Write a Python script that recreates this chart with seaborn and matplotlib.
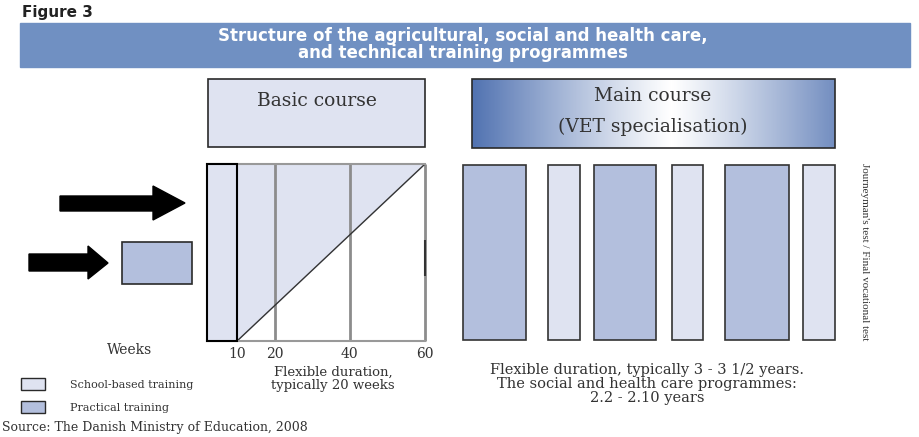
"""
Figure 3: structure of the agricultural, social and health care,
and technical training programmes (diagram redrawn with seaborn/matplotlib).
"""
import matplotlib
matplotlib.use("Agg")
import matplotlib.pyplot as plt
import numpy as np
import seaborn as sns
from matplotlib.colors import LinearSegmentedColormap
from matplotlib.patches import Polygon, Rectangle

# --- text ---
figure_label = "Figure 3"
title_lines = [
    "Structure of the agricultural, social and health care,",
    "and technical training programmes",
]
basic_label = "Basic course"
main_label = ["Main course", "(VET specialisation)"]
test_label = "Journeyman's test / Final vocational test"
weeks_label = "Weeks"
basic_note = ["Flexible duration,", "typically 20 weeks"]
main_note = [
    "Flexible duration, typically 3 - 3 1/2 years.",
    "The social and health care programmes:",
    "2.2 - 2.10 years",
]
legend_labels = ["School-based training", "Practical training"]
source = "Source: The Danish Ministry of Education, 2008"

# --- basic course (weeks) ---
week_ticks = [10, 20, 40, 60]
intro_block = [2, 10]      # school-based opening block (weeks)
basic_end = 60

# --- main course: alternating blocks (relative lengths) ---
main_types = ["practical", "school", "practical", "school", "practical", "school"]
main_lengths = [63, 32, 62, 31, 64, 32]
main_gaps = [0, 22, 14, 16, 22, 14]

LIGHT = "#dfe3f1"
DARK = "#b3bfdd"
BANNER = "#7090c2"
TEXT = "#333333"
EDGE = "#2a2a2a"
SERIF = ["DejaVu Serif"]

sns.set_theme(style="white")
plt.rcParams["font.family"] = SERIF

W, H = 919, 437
fig = plt.figure(figsize=(W / 100, H / 100), dpi=100)
fig.patch.set_facecolor("white")

# background axes in pixel units for the layout pieces
bg = fig.add_axes([0, 0, 1, 1])
bg.axis("off")

bg.text(22, 13, figure_label, fontsize=11, fontweight="bold",
        family="DejaVu Sans", color="#222222", va="center")

# title banner
bg.add_patch(Rectangle((20, 23), 890, 44, color=BANNER, zorder=1))
for y, line in zip([41, 58], title_lines):
    bg.text(463, y, line, fontsize=12, fontweight="bold", family="DejaVu Sans",
            color="white", ha="center", va="baseline", zorder=2)

# header boxes
bg.add_patch(Rectangle((208, 79), 217, 68, fc=LIGHT, ec=EDGE, lw=1.2))
bg.text(317, 101, basic_label, fontsize=13.5, color=TEXT, ha="center", va="center")

cmap = LinearSegmentedColormap.from_list("hdr", ["white", "#5374b2"])
xs = np.linspace(-1, 1, 300)
grad = np.abs(xs - 0.1)[None, :] ** 1.1
bg.imshow(grad, extent=(472, 835, 148, 79), cmap=cmap, aspect="auto",
          vmin=0, vmax=1.1, zorder=1)
bg.add_patch(Rectangle((472, 79), 363, 69, fill=False, ec=EDGE, lw=1.2, zorder=2))
bg.text(653, 96, main_label[0], fontsize=13.5, color=TEXT, ha="center", va="center", zorder=3)
bg.text(653, 127, main_label[1], fontsize=13.5, color=TEXT, ha="center", va="center", zorder=3)

# entry arrows and practical-training block
bg.add_patch(Polygon([(60, 196), (153, 196), (153, 186), (185, 203),
                      (153, 220), (153, 211), (60, 211)], color="black"))
bg.add_patch(Polygon([(29, 254), (88, 254), (88, 246), (108, 263),
                      (88, 279), (88, 271), (29, 271)], color="black"))
bg.add_patch(Rectangle((122, 242), 70, 42, fc=DARK, ec=EDGE, lw=1.2))

# vertical exam label
bg.text(865, 252, test_label, rotation=-90, fontsize=8, color=TEXT,
        family="Liberation Serif", ha="center", va="center")

bg.text(130, 350, weeks_label, fontsize=10, color=TEXT, ha="center", va="center")
for y, line in zip([372, 385], basic_note):
    bg.text(333, y, line, fontsize=9.5, color=TEXT, ha="center", va="center")
for y, line in zip([370, 384, 398], main_note):
    bg.text(647, y, line, fontsize=10.5, color=TEXT, ha="center", va="center")

# legend
for y, fc, label in zip([378, 401], [LIGHT, DARK], legend_labels):
    bg.add_patch(Rectangle((21, y), 24, 12, fc=fc, ec=EDGE, lw=1))
    bg.text(70, y + 7, label, fontsize=8, color=TEXT, va="center")

bg.text(2, 427, source, fontsize=9, color=TEXT, va="center")

bg.set_xlim(0, W)
bg.set_ylim(H, 0)

# basic course block, in weeks
ab = fig.add_axes([207 / W, (H - 341) / H, 218 / W, 177 / H])
ab.set_xlim(intro_block[0], basic_end)
ab.set_ylim(0, 1)
ab.fill_between([intro_block[1], basic_end], [0, 1], [1, 1], color=LIGHT, lw=0)
ab.vlines(week_ticks[1:], 0, 1, color="#8c8c8c", lw=2, clip_on=False)
ab.plot([intro_block[1], basic_end], [0, 1], color="#333333", lw=1)
ab.bar(intro_block[0], 1, width=intro_block[1] - intro_block[0], align="edge",
       color=LIGHT, edgecolor="black", lw=1.5, clip_on=False, zorder=3)
ab.vlines(basic_end, 0.37, 0.57, color="#333333", lw=1.5, clip_on=False)
for side in ["top", "bottom"]:
    ab.spines[side].set_color("#999999")
    ab.spines[side].set_linewidth(1.5)
ab.spines["left"].set_visible(False)
ab.spines["right"].set_visible(False)
ab.set_xticks(week_ticks)
ab.set_xticklabels([str(t) for t in week_ticks], fontsize=10, color=TEXT)
ab.tick_params(axis="x", length=0, pad=4)
ab.set_yticks([])
ab.set_facecolor("white")

# main course blocks
am = fig.add_axes([463 / W, (H - 340) / H, 372 / W, 175 / H])
lefts = []
pos = 0
for gap, length in zip(main_gaps, main_lengths):
    pos += gap
    lefts.append(pos)
    pos += length
colors = [DARK if t == "practical" else LIGHT for t in main_types]
am.bar(lefts, 1, width=main_lengths, align="edge", color=colors,
       edgecolor="#333333", lw=1.2, clip_on=False)
am.set_xlim(0, pos)
am.set_ylim(0, 1)
am.axis("off")

fig.savefig("out.png", dpi=100)
plt.close(fig)
